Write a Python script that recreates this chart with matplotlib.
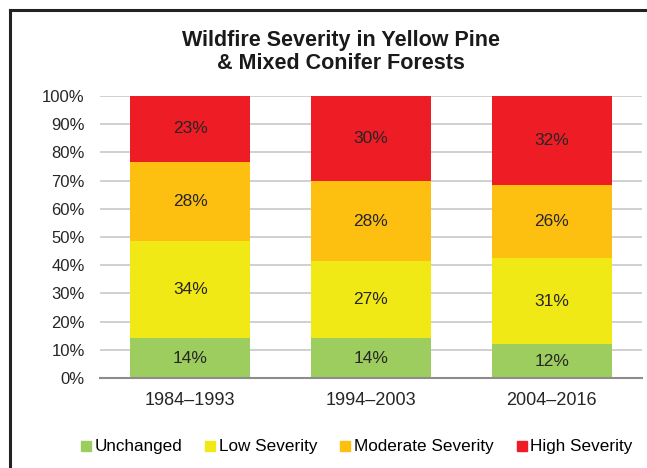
import matplotlib

matplotlib.use("Agg")
import matplotlib.pyplot as plt
from matplotlib.lines import Line2D
from matplotlib.ticker import FuncFormatter
import numpy as np

plt.rcParams["font.family"] = ["Liberation Sans", "DejaVu Sans"]

# 데이터
periods = ["1984\u20131993", "1994\u20132003", "2004\u20132016"]
categories = ["Unchanged", "Low Severity", "Moderate Severity", "High Severity"]
unchanged = [14, 14, 12]
low = [34, 27, 31]
moderate = [28, 28, 26]
high = [23, 30, 32]
colors = ["#9dcd5e", "#f1e915", "#fdc010", "#ee1c25"]

W, H = 647, 468
fig = plt.figure(figsize=(W / 100, H / 100), dpi=100)
ax = fig.add_axes([100 / W, 1 - 378 / H, 542 / W, 282 / H])

series = np.array([unchanged, low, moderate, high], dtype=float)
shares = series / series.sum(axis=0) * 100  # 100% stacked
x = np.arange(len(periods))
bottom = np.zeros(len(periods))
for vals, raw, color, label in zip(shares, series, colors, categories):
    ax.bar(x, vals, bottom=bottom, width=0.665, color=color, label=label, zorder=2)
    for xi, b, v, r in zip(x, bottom, vals, raw):
        ax.text(xi, b + v / 2, f"{int(r)}%", ha="center", va="center",
                fontsize=12.5, color="#262626", zorder=3)
    bottom += vals

ax.set_xlim(-0.5, len(periods) - 0.5)
ax.set_ylim(0, 100)
ax.set_yticks(np.arange(0, 101, 10))
ax.yaxis.set_major_formatter(FuncFormatter(lambda v, _: f"{int(v)}%"))
ax.yaxis.grid(True, color="#c8c8c8", linewidth=1.2, zorder=0)
ax.set_xticks(x)
ax.set_xticklabels(periods)
ax.tick_params(axis="both", length=0, labelsize=12, colors="#262626")
ax.tick_params(axis="x", labelsize=13, pad=10)
ax.tick_params(axis="y", pad=11)
for s in ["top", "right", "left"]:
    ax.spines[s].set_visible(False)
ax.spines["bottom"].set_color("#8c8c8c")
ax.spines["bottom"].set_linewidth(1.5)

fig.text(341 / W, 1 - 52 / H, "Wildfire Severity in Yellow Pine\n& Mixed Conifer Forests",
         ha="center", va="center", fontsize=15.5, fontweight="bold", color="#1a1a1a",
         linespacing=1.15)

handles = [Line2D([], [], marker="s", linestyle="none", markersize=6.5,
                  markerfacecolor=c, markeredgecolor=c) for c in colors]
fig.legend(handles, categories, loc="center", bbox_to_anchor=(355 / W, 1 - 447 / H),
           ncol=4, frameon=False, fontsize=12.3, handletextpad=0.0,
           columnspacing=1.15, handlelength=1.0)

# 테두리
fig.add_artist(Line2D([10 / W, 10 / W], [0, 1 - 10 / H], color="#222222", linewidth=2.2,
                      transform=fig.transFigure))
fig.add_artist(Line2D([10 / W, 1], [1 - 10 / H, 1 - 10 / H], color="#222222", linewidth=2.2,
                      transform=fig.transFigure))

fig.savefig("out.png", dpi=100)
